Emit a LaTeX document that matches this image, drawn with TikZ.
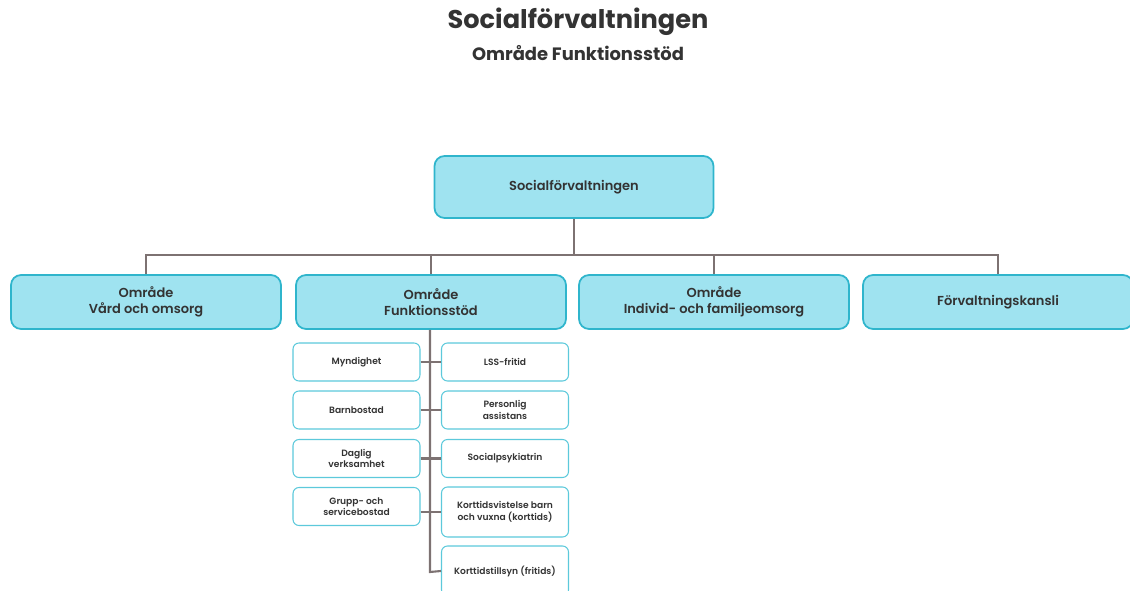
\documentclass[tikz,border=0pt]{standalone}
\usepackage{fontspec}
\setmainfont{Poppins}[UprightFont=* SemiBold, BoldFont=* Bold]
\usepackage{tikz}
\definecolor{boxfill}{HTML}{9FE3F0}
\definecolor{boxline}{HTML}{2FB5CC}
\definecolor{subline}{HTML}{5CC9DB}
\definecolor{wire}{HTML}{7D7272}
\definecolor{ink}{HTML}{333333}
\tikzset{
  topbox/.style={draw=boxline, fill=boxfill, line width=1pt, rounded corners=0.2cm,
    minimum width=5.58cm, minimum height=1.24cm, align=center, text=ink, font=\fontsize{7.4}{9}\selectfont},
  areabox/.style={draw=boxline, fill=boxfill, line width=1pt, rounded corners=0.2cm,
    minimum width=5.4cm, minimum height=1.08cm, align=center, text=ink, font=\fontsize{7.4}{9}\selectfont},
  unitbox/.style={draw=subline, fill=white, line width=0.6pt, rounded corners=0.12cm,
    minimum width=2.54cm, minimum height=0.76cm, align=center, text=ink, font=\fontsize{5.2}{6.6}\selectfont},
  wireline/.style={draw=wire, line width=1.2pt}
}
\begin{document}
\begin{tikzpicture}[x=0.02cm, y=-0.02cm]
  \useasboundingbox (0,0) rectangle (1130,591);

  % Heading
  \node[text=ink, font=\bfseries\fontsize{14.6}{16}\selectfont] (title) at (578,22) {Socialförvaltningen};
  \node[text=ink, font=\bfseries\fontsize{10.2}{12}\selectfont] (subtitle) at (578,53) {Område Funktionsstöd};

  % Top of the tree
  \node[topbox] (top) at (574,187) {Socialförvaltningen};

  % Areas
  \node[areabox] (vard) at (146,302) {Område\\Vård och omsorg};
  \node[areabox] (funk) at (431,302) {Område\\Funktionsstöd};
  \node[areabox] (ifo) at (714,302) {Område\\Individ- och familjeomsorg};
  \node[areabox] (kansli) at (998,302) {Förvaltningskansli};

  % Units, left column
  \node[unitbox] (myn) at (356.5,362) {Myndighet};
  \node[unitbox] (barn) at (356.5,410) {Barnbostad};
  \node[unitbox] (daglig) at (356.5,458.5) {Daglig\\verksamhet};
  \node[unitbox] (grupp) at (356.5,506.5) {Grupp- och\\servicebostad};

  % Units, right column
  \node[unitbox] (lss) at (505,362) {LSS-fritid};
  \node[unitbox] (pers) at (505,410) {Personlig\\assistans};
  \node[unitbox] (socps) at (505,458.5) {Socialpsykiatrin};
  \node[unitbox, minimum height=1cm] (kortv) at (505,512) {Korttidsvistelse barn\\och vuxna (korttids)};
  \node[unitbox, minimum height=1.0cm] (korts) at (505,571) {Korttidstillsyn (fritids)};

  % Lines from the top
  \coordinate (bus) at (574,255);
  \draw[wireline] (top.south) -- (bus);
  \draw[wireline] (vard.north) |- (bus) -| (kansli.north);
  \draw[wireline] (funk.north) -- (funk.north |- bus);
  \draw[wireline] (ifo.north) -- (ifo.north |- bus);

  % Lines in Funktionsstöd
  \coordinate (spine) at (430,572);
  \draw[wireline] (funk.south -| spine) -- (spine) -- (korts.west);
  \draw[wireline] (myn.east) -- (lss.west);
  \draw[wireline] (barn.east) -- (pers.west);
  \draw[wireline] (daglig.east) -- (socps.west);
  \draw[wireline] (grupp.east |- kortv.west) -- (kortv.west);
\end{tikzpicture}
\end{document}
